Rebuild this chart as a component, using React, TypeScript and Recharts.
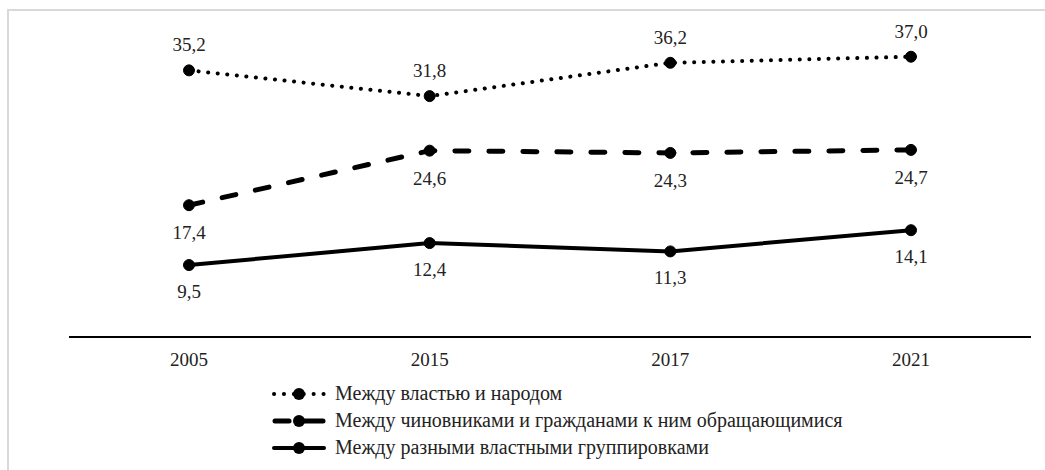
import React from 'react';
import { LineChart, Line, XAxis, YAxis, Legend, LabelList } from 'recharts';

const years = ['2005', '2015', '2017', '2021'];
const peopleValues = [35.2, 31.8, 36.2, 37.0];
const officialsValues = [17.4, 24.6, 24.3, 24.7];
const groupsValues = [9.5, 12.4, 11.3, 14.1];
const seriesNames = [
  'Между властью и народом',
  'Между чиновниками и гражданами к ним обращающимися',
  'Между разными властными группировками',
];
const seriesKeys = ['people', 'officials', 'groups'];

const data = years.map((year, i) => ({
  year,
  people: peopleValues[i],
  officials: officialsValues[i],
  groups: groupsValues[i],
}));

const FONT = "'Liberation Serif', 'Times New Roman', serif";
const TEXT = '#222';

const fmt = (v: number) => v.toFixed(1).replace('.', ',');

const makeLabel = (dy: number) => (props: any) => {
  const { x, y, value } = props;
  return (
    <text x={x} y={y + dy} textAnchor="middle" style={{ fontFamily: FONT }} fontSize={19} fill={TEXT}>
      {fmt(Number(value))}
    </text>
  );
};

const LegendIcon = ({ kind }: { kind: string }) => {
  if (kind === 'dotted') {
    return (
      <svg width={54} height={16} style={{ display: 'block' }}>
        <line x1={2} y1={8} x2={52} y2={8} stroke="#000" strokeWidth={4} strokeLinecap="round" strokeDasharray="0.1 9.8" />
        <circle cx={27} cy={8} r={6} fill="#000" />
      </svg>
    );
  }
  if (kind === 'dashed') {
    return (
      <svg width={54} height={16} style={{ display: 'block' }}>
        <line x1={3} y1={8} x2={17} y2={8} stroke="#000" strokeWidth={5} strokeLinecap="round" />
        <line x1={30} y1={8} x2={51} y2={8} stroke="#000" strokeWidth={5} strokeLinecap="round" />
        <circle cx={27} cy={8} r={6} fill="#000" />
      </svg>
    );
  }
  return (
    <svg width={54} height={16} style={{ display: 'block' }}>
      <line x1={2} y1={8} x2={52} y2={8} stroke="#000" strokeWidth={4} strokeLinecap="round" />
      <circle cx={27} cy={8} r={6} fill="#000" />
    </svg>
  );
};

const kinds = ['dotted', 'dashed', 'solid'];

const renderLegend = () => {
  return (
    <div style={{ fontFamily: FONT, fontSize: 20, color: TEXT }}>
      {seriesKeys.map((k, i) => (
        <div key={k} style={{ display: 'flex', alignItems: 'center', height: 27, whiteSpace: 'nowrap' }}>
          <LegendIcon kind={kinds[i]} />
          <span style={{ marginLeft: 9 }}>{seriesNames[i]}</span>
        </div>
      ))}
    </div>
  );
};

export default function App() {
  return (
    <div style={{ position: 'absolute', left: 0, top: 0, width: 1045, height: 470, background: '#fff', overflow: 'hidden' }}>
      <div
        style={{
          position: 'absolute',
          left: 7,
          top: 9,
          width: 1060,
          height: 480,
          borderLeft: '2px solid #d9d9d9',
          borderTop: '2px solid #d9d9d9',
        }}
      />
      <div style={{ position: 'absolute', left: 0, top: 0 }}>
        <LineChart width={1045} height={470} data={data} margin={{ top: 34, right: 14, bottom: 103, left: 69 }}>
          <XAxis
            dataKey="year"
            padding={{ left: 120, right: 120 }}
            axisLine={{ stroke: '#000', strokeWidth: 2 }}
            tickLine={false}
            tickSize={6}
            tickMargin={10}
            height={30}
            tick={{ fontFamily: FONT, fontSize: 19, fill: TEXT }}
          />
          <YAxis hide domain={[0, 40]} />
          <Legend
            layout="vertical"
            align="center"
            verticalAlign="middle"
            content={renderLegend}
            wrapperStyle={{ left: 272, top: 380, width: 'auto', height: 'auto' }}
          />
          <Line
            name={seriesNames[0]}
            dataKey="people"
            stroke="#000"
            strokeWidth={4}
            strokeLinecap="round"
            strokeDasharray="0.1 9.5"
            dot={{ r: 5.5, fill: '#000', stroke: '#000', strokeWidth: 1, strokeDasharray: '' }}
            isAnimationActive={false}
          >
            <LabelList dataKey="people" content={makeLabel(-19)} />
          </Line>
          <Line
            name={seriesNames[1]}
            dataKey="officials"
            stroke="#000"
            strokeWidth={5}
            strokeLinecap="round"
            strokeDasharray="14 20"
            dot={{ r: 5.5, fill: '#000', stroke: '#000', strokeWidth: 1, strokeDasharray: '' }}
            isAnimationActive={false}
          >
            <LabelList dataKey="officials" content={makeLabel(34)} />
          </Line>
          <Line
            name={seriesNames[2]}
            dataKey="groups"
            stroke="#000"
            strokeWidth={4}
            dot={{ r: 5.5, fill: '#000', stroke: '#000', strokeWidth: 1 }}
            isAnimationActive={false}
          >
            <LabelList dataKey="groups" content={makeLabel(33)} />
          </Line>
        </LineChart>
      </div>
    </div>
  );
}
